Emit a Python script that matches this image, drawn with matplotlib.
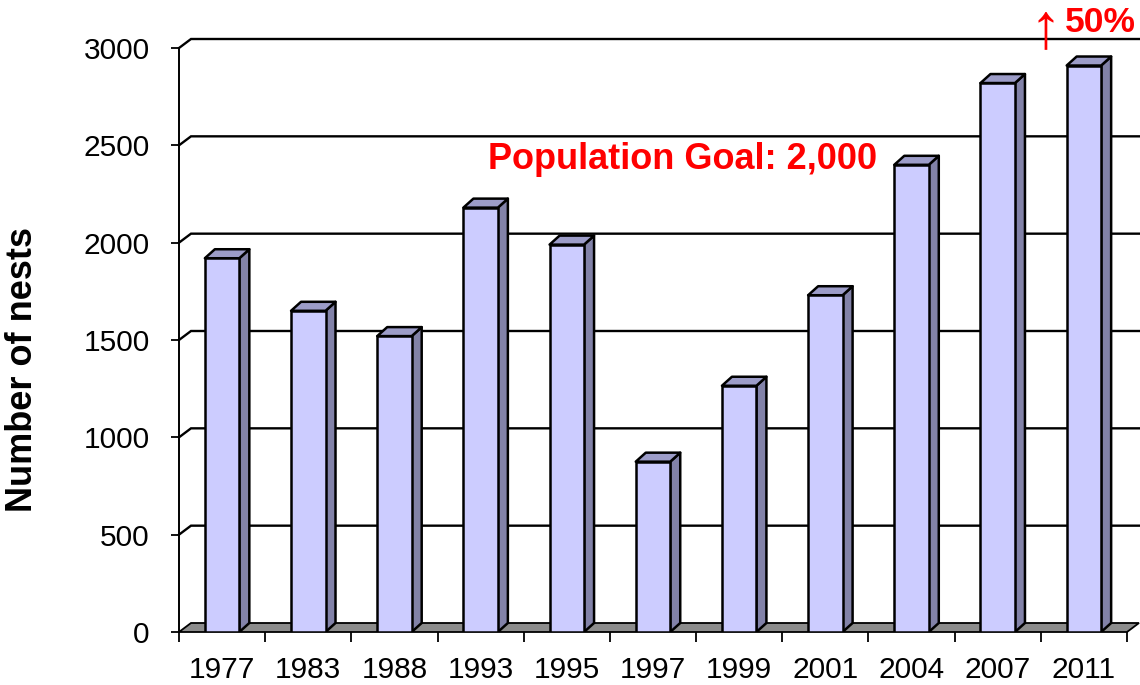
import numpy as np
import matplotlib
matplotlib.use('Agg')
import matplotlib.pyplot as plt
from matplotlib.patches import Polygon

plt.rcParams['font.family'] = ['Liberation Sans', 'DejaVu Sans']

# data
years = ['1977', '1983', '1988', '1993', '1995', '1997', '1999', '2001', '2004', '2007', '2011']
nests = [1920, 1650, 1520, 2180, 1990, 875, 1265, 1730, 2400, 2820, 2910]
yticks = [0, 500, 1000, 1500, 2000, 2500, 3000]

front_col = '#CCCCFF'
side_col = '#8282A8'
top_col = '#9C9CC8'
floor_col = '#8C8C8C'

W, H = 1140, 685
fig = plt.figure(figsize=(W/100, H/100), dpi=100)
# front plane of the axes: x 179..1127 px, y 48..632 px
ax = fig.add_axes([179/W, (H-632)/H, 948/W, 584/H])
n = len(years)
ax.set_xlim(-0.5, n-0.5)
ax.set_ylim(0, 3000)
for s in ax.spines.values():
    s.set_visible(False)

# depth offsets (px -> data units)
px_x = 948/n
px_y = 584/3000
DX, DY = 12/px_x, 9/px_y       # walls / floor
BDX, BDY = 10/px_x, 9/px_y     # bars

x0, x1 = -0.5, n-0.5

# floor
ax.add_patch(Polygon([(x0, 0), (x1, 0), (x1+DX, DY), (x0+DX, DY)], closed=True,
                     fc=floor_col, ec='black', lw=1.3, zorder=1, clip_on=False))

# back wall gridlines with the slanted bit on the left wall
for v in yticks[1:]:
    ax.plot([x0, x0+DX, x1+DX], [v, v+DY, v+DY], color='black', lw=1.7,
            zorder=1, clip_on=False, solid_joinstyle='miter')

# left wall front edge (value axis)
ax.plot([x0, x0], [0, 3000], color='black', lw=1.4, zorder=2, clip_on=False)

# bars
xs = np.arange(n)
bw = 0.40
for xi, v in zip(xs, nests):
    l, r = xi - bw/2, xi + bw/2
    ax.add_patch(Polygon([(r, 0), (r+BDX, BDY), (r+BDX, v+BDY), (r, v)], closed=True,
                         fc=side_col, ec='black', lw=1.8, zorder=3, joinstyle='round'))
    ax.add_patch(Polygon([(l, v), (r, v), (r+BDX, v+BDY), (l+BDX, v+BDY)], closed=True,
                         fc=top_col, ec='black', lw=1.8, zorder=3, joinstyle='round'))
ax.bar(xs, nests, width=bw, color=front_col, edgecolor='black', linewidth=1.8, zorder=4)

# ticks
ax.set_yticks(yticks)
ax.set_yticklabels([str(t) for t in yticks])
ax.tick_params(axis='y', direction='out', length=6, width=1.3, pad=15, labelsize=21.5)
ax.set_xticks(xs)
ax.set_xticklabels(years)
ax.set_xticks(np.arange(n+1) - 0.5, minor=True)
ax.tick_params(axis='x', which='major', length=0, pad=17, labelsize=21.5)
ax.tick_params(axis='x', which='minor', direction='out', length=7.5, width=1.3)

ax.set_ylabel('Number of nests', fontsize=26, fontweight='bold')
ax.yaxis.set_label_coords(-0.147, 0.45)

# annotations
ax.text(5.34, 2425, 'Population Goal: 2,000', color='red', fontsize=26,
        fontweight='bold', ha='center', va='center')
ax.text(9.55, 3090, '↑', color='red', fontsize=46, ha='center', va='center',
        clip_on=False)
ax.text(10.19, 3133, '50%', color='red', fontsize=25.5, fontweight='bold',
        ha='center', va='center', clip_on=False)

fig.savefig('out.png', dpi=100)
